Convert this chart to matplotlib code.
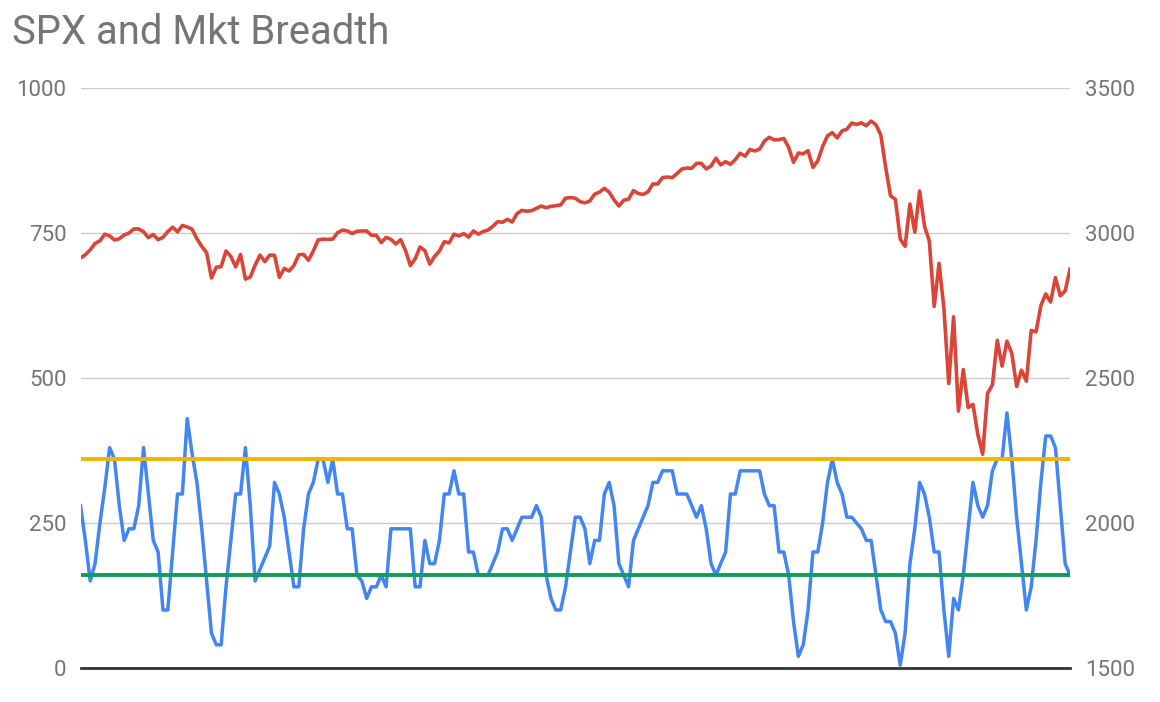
import numpy as np
import matplotlib
matplotlib.use("Agg")
import matplotlib.pyplot as plt

plt.rcParams['font.family'] = ['Roboto', 'DejaVu Sans']

title = "SPX and Mkt Breadth"

# Market breadth (left axis), one value per trading day
breadth = [
    280, 220, 150, 180, 250, 310, 380, 360, 280, 220,
    240, 240, 280, 380, 300, 220, 200, 100, 100, 200,
    300, 300, 430, 370, 320, 240, 150, 60, 40, 40,
    140, 220, 300, 300, 380, 280, 150, 170, 190, 210,
    320, 300, 260, 200, 140, 140, 240, 300, 320, 360,
    360, 320, 360, 300, 300, 240, 240, 160, 150, 120,
    140, 140, 160, 140, 240, 240, 240, 240, 240, 140,
    140, 220, 180, 180, 220, 300, 300, 340, 300, 300,
    200, 200, 160, 160, 160, 180, 200, 240, 240, 220,
    240, 260, 260, 260, 280, 260, 160, 120, 100, 100,
    140, 200, 260, 260, 240, 180, 220, 220, 300, 320,
    280, 180, 160, 140, 220, 240, 260, 280, 320, 320,
    340, 340, 340, 300, 300, 300, 280, 260, 280, 240,
    180, 160, 180, 200, 300, 300, 340, 340, 340, 340,
    340, 300, 280, 280, 200, 200, 160, 80, 20, 40,
    100, 200, 200, 250, 320, 360, 320, 300, 260, 260,
    250, 240, 220, 220, 160, 100, 80, 80, 60, 5,
    60, 180, 240, 320, 300, 260, 200, 200, 100, 20,
    120, 100, 160, 240, 320, 280, 260, 280, 340, 360,
    360, 440, 360, 260, 180, 100, 140, 220, 320, 400,
    400, 380, 280, 180, 160,
]

# SPX close (right axis)
spx = [
    2914, 2925, 2942,
    2964, 2973, 2996, 2990, 2976, 2980, 2993, 3000, 3014, 3014, 3004,
    2984, 2995, 2977, 2985, 3005, 3020, 3004, 3026, 3021, 3013, 2980,
    2954, 2932, 2845, 2882, 2884, 2938, 2919, 2883, 2926, 2841, 2848,
    2889, 2924, 2901, 2924, 2923, 2847, 2878, 2869, 2888, 2925, 2926,
    2906, 2938, 2976, 2979, 2978, 2979, 3001, 3010, 3007, 2998, 3006,
    3007, 3007, 2992, 2992, 2967, 2985, 2978, 2962, 2977,
    2940, 2888, 2911, 2952, 2939, 2893, 2919, 2938, 2970, 2966, 2996,
    2990, 2998, 2986, 3007, 2996, 3005, 3010, 3023, 3039, 3037, 3047, 3038,
    3067, 3078, 3075, 3077, 3085, 3093, 3087, 3092, 3094, 3097, 3120,
    3122, 3120, 3108, 3104, 3110, 3134, 3141, 3154, 3141,
    3114, 3093, 3113, 3117, 3146, 3136, 3133, 3142, 3169, 3169, 3191,
    3193, 3191, 3205, 3221, 3224, 3223, 3240, 3240, 3221, 3231,
    3258, 3235, 3246, 3237, 3253, 3275, 3265, 3288, 3283, 3289, 3317,
    3330, 3321, 3322, 3326, 3295, 3244, 3276, 3273, 3284, 3226,
    3249, 3298, 3335, 3346, 3328, 3352, 3358, 3379, 3374, 3380, 3370,
    3386, 3373, 3338, 3226, 3128, 3116, 2979, 2954,
    3100, 3003, 3145, 3024, 2972, 2747, 2895, 2741, 2481, 2711, 2386,
    2529, 2398, 2409, 2305, 2237, 2447, 2476, 2630, 2541, 2627, 2585,
    2471, 2527, 2489, 2664, 2659, 2750, 2790, 2762, 2846, 2783, 2800, 2875,
]

upper_level = 360
lower_level = 160

left_ticks = [0, 250, 500, 750, 1000]
right_ticks = [1500, 2000, 2500, 3000, 3500]

n = len(spx)
x = np.arange(n)
upper = [upper_level] * n
lower = [lower_level] * n

W, H = 1160, 702
fig = plt.figure(figsize=(W / 100, H / 100), dpi=100)
fig.patch.set_facecolor('white')

left_px, right_px, top_px, bottom_px = 80.5, 1070, 88, 668
ax = fig.add_axes([left_px / W, 1 - bottom_px / H,
                   (right_px - left_px) / W, (bottom_px - top_px) / H])
ax2 = ax.twinx()

label_color = '#757575'

ax.set_ylim(0, 1000)
ax.set_xlim(0, n - 1)
ax.set_yticks(left_ticks)
ax.set_yticklabels([str(t) for t in left_ticks])
ax.set_xticks([])
ax.yaxis.grid(True, color='#cccccc', lw=1.0)
ax.set_axisbelow(True)
ax.tick_params(axis='y', length=0, pad=10, labelsize=16, labelcolor=label_color)

ax.plot(x[:len(breadth)], breadth, color='#4285f4', lw=2.5, zorder=3)
ax.plot(x, upper, color='#f4b400', lw=2.8, zorder=4)
ax.plot(x, lower, color='#0f9d58', lw=2.8, zorder=4)
ax.axhline(0, color='#333333', lw=2.0, zorder=5, clip_on=False)

ax2.set_ylim(1500, 3500)
ax2.set_yticks(right_ticks)
ax2.set_yticklabels([str(t) for t in right_ticks])
ax2.tick_params(axis='y', length=0, pad=11, labelsize=16, labelcolor=label_color)
ax2.plot(x, spx, color='#db4437', lw=2.6, zorder=3)

for a in (ax, ax2):
    for s in a.spines.values():
        s.set_visible(False)

fig.text(12 / W, 1 - 32 / H, title, fontsize=28.8, color=label_color,
         va='center', ha='left')

fig.savefig('out.png', dpi=100, facecolor='white')
